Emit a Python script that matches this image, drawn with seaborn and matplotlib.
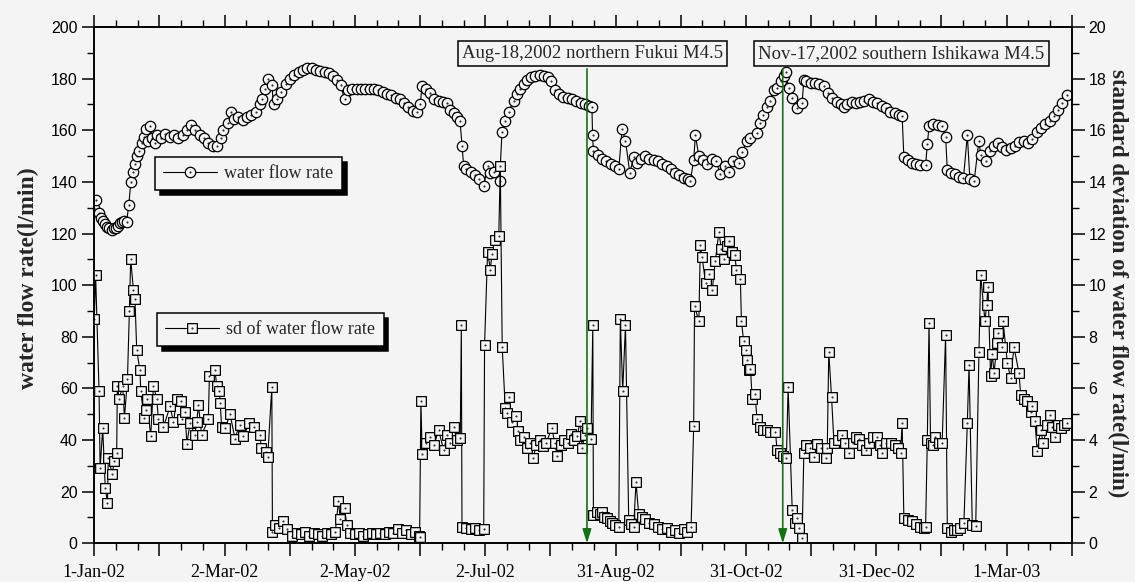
import numpy as np
import pandas as pd
import matplotlib
matplotlib.use('Agg')
import matplotlib.pyplot as plt
import matplotlib.dates as mdates
from matplotlib.lines import Line2D
from matplotlib.path import Path
from matplotlib.ticker import MultipleLocator, FixedLocator
import seaborn as sns

# ---------------- data ----------------
START = '2002-01-01'

flow_day = [0, 1, 2, 3, 4, 5, 6, 7, 8, 9, 10, 11, 12, 13, 14, 15, 16, 17, 18, 19,
            20, 21, 22, 23, 24, 25, 26, 27, 28, 29, 31, 33, 35, 37, 39, 41, 43, 45, 47, 49,
            51, 53, 55, 57, 59, 60, 62, 63.6, 65, 67, 69, 71, 73, 75, 77, 78, 79.4, 80.6, 82.5, 83.3,
            85, 87, 89, 91, 93, 95, 97, 99, 101, 103, 105, 107, 109, 111, 113, 114.5, 116.3, 118, 120, 122,
            124, 126, 128, 130, 132, 134, 136, 138, 140, 142, 144, 146, 148, 150, 151.5, 152.3, 154, 156, 158, 160,
            162, 164, 165.5, 167, 168.5, 170, 170.9, 171.7, 173, 175, 177, 179, 181, 182.8, 184, 186, 188.4, 189.5, 191, 192.6,
            194.9, 196.5, 198, 199.5, 201, 203, 205, 207, 209, 211, 212.5, 214, 216, 218, 220, 222, 224, 226, 228, 230,
            231.3, 231.6, 232, 234, 236, 238, 240, 242, 243.8, 245.3, 246.9, 248.9, 250.7, 252.3, 254, 256, 258, 260, 262, 264,
            266, 268, 270, 272, 274, 276, 277.1, 278.6, 279.4, 281, 283, 285, 287, 289, 291, 293, 295, 297, 299.6, 301.1,
            303.4, 305, 308, 309.6, 311, 312.7, 314, 315.8, 317.4, 319, 320.5, 321.3, 322.8, 324.4, 326.7, 329, 329.8, 331, 333, 335,
            337, 339, 341, 343, 345, 347, 348.5, 350, 352, 354, 356, 358, 360, 362, 364, 366, 368, 370, 372, 374,
            375.5, 376.3, 378, 380, 382, 384, 386.4, 387.2, 388, 390, 392, 394, 395.7, 396.5, 398, 400, 402, 404, 405.8, 407,
            409, 411.2, 412, 414.3, 416.5, 418, 420, 422, 424, 426, 428, 430, 432, 434, 436, 438.3, 440, 442, 444, 446,
            448, 450, 452.3]
flow_val = [130, 133, 128, 126, 125, 123.5, 122.5, 122, 121.5, 122, 122, 123, 124, 124.5, 125, 124.5, 131, 140, 144, 147,
            150, 152, 155, 157.5, 160.5, 156, 161.5, 157, 155, 158, 157, 158.5, 157.5, 158, 157, 158, 160, 162, 160, 158,
            157, 155, 154, 154, 157, 160, 163, 167, 164.5, 165, 164, 165, 166, 167, 170, 172, 176, 180, 177.5, 170,
            172, 175, 178, 180, 181.5, 182.5, 183.5, 184, 184, 183.5, 183, 182.5, 182, 181, 179.5, 177.5, 172, 175.5, 176, 176,
            176, 176, 176, 176, 175.5, 175, 174, 173.5, 172.5, 172, 170.5, 169, 167.5, 167, 170, 177, 176, 174.5, 172, 171.5,
            171, 170.5, 168, 166.5, 165, 163.5, 154, 146, 145, 144, 142.5, 141, 138.5, 146, 143.5, 144, 140.5, 159.5, 163.5, 167,
            171.5, 174, 176, 178, 179.5, 180.5, 181, 181.5, 181, 180.5, 179, 175.5, 174, 173, 172.5, 172, 171.5, 170.5, 170, 169.5,
            169, 158, 152, 150.5, 149, 148, 147, 146, 145, 160.5, 156, 143.5, 149.5, 147.5, 149, 150, 149, 148.5, 148, 147,
            146, 145, 143.5, 142.5, 141.5, 141, 140.5, 148.5, 158, 150, 148.5, 147, 149, 148, 143, 146, 144, 148, 147.5, 151.5,
            156, 157, 159, 163, 166, 169, 171.5, 175.5, 176.5, 179, 181, 182.5, 176.5, 172.5, 168.5, 170.5, 179.5, 179, 178.5, 178.5,
            178, 177, 174.5, 172.5, 171, 170, 169, 170, 171, 170.5, 171, 171.5, 172, 171, 170.5, 169.5, 168.5, 167, 166.5, 166,
            165.5, 149.5, 148.5, 147.5, 147, 146.5, 146.5, 154.5, 161.5, 162.5, 162, 161.5, 157.5, 144.5, 143.5, 143, 142, 141.5, 158, 141,
            140.5, 156, 150.5, 148, 152, 154, 155, 153.5, 152.5, 153, 154, 155.5, 156, 155, 156.5, 159.5, 161, 162.5, 163.5, 165.5,
            168, 170.5, 173.5]

sd_day = [0, 0.6, 2.2, 2.7, 3.9, 5.1, 6.1, 6.5, 8.4, 9.2, 10.4, 10.7, 11.6, 13.2, 14, 15.4, 16.3, 16.9, 18.2, 18.9,
          19.7, 21.2, 21.6, 23.1, 23.9, 24.4, 26.2, 27.5, 29, 29.8, 32.1, 35.2, 36.8, 38.3, 40.2, 40.6, 42.2, 43, 44.5, 46.8,
          47.6, 48.4, 49.9, 53, 53.5, 56.1, 56.9, 58.1, 58.5, 59.2, 60.8, 63.1, 65.4, 67.5, 69.3, 72.1, 74.3, 77.1, 77.5, 79.7,
          80.6, 82.5, 82.8, 84, 86, 87.5, 89.5, 91.8, 94, 96, 98, 100, 102, 104, 106, 108, 110, 112, 113.5, 114.3,
          116.3, 117.4, 119, 121, 123, 125, 127, 129, 131, 133, 135, 137, 139, 141, 143, 145, 147, 149, 150.7, 151.2,
          151.8, 152.4, 154, 156.2, 158, 160, 162.4, 164, 165.5, 167, 168.5, 170.1, 170.6, 170.9, 173, 175, 177, 179, 181, 181.4,
          182.8, 184.1, 184.8, 186.1, 188, 188.7, 189.6, 191, 191.8, 192.6, 194, 196.2, 196.8, 198, 199.6, 201, 202.5, 203.9, 205.5, 207,
          208.5, 210, 212.7, 214, 215.1, 217, 218.5, 220, 221.5, 223, 224.4, 225.9, 226.7, 228, 229, 230.9, 231.7, 232, 233.7, 235,
          236, 237, 238.3, 239.5, 240.7, 242, 243.8, 244.5, 245.6, 246.9, 248.4, 249.5, 250.7, 251.8, 253, 254.5, 256, 258, 260, 262,
          264, 266, 268, 270, 272, 274, 275.5, 277.4, 278.6, 279, 281, 281.7, 282.5, 284.1, 285.6, 287.2, 288.7, 290.3, 291.5, 292.6,
          294, 294.9, 296.3, 297.7, 298.5, 300.3, 300.8, 301.8, 302.7, 303.4, 304.2, 305, 305.8, 307, 308.1, 309.6, 311, 312.7, 314, 316.6,
          317.4, 318.5, 320, 321.7, 322.5, 324.4, 325.5, 326.7, 327.5, 329, 329.8, 331, 332.5, 334.5, 336, 338, 339.9, 340.7, 341.4, 342.7,
          343.8, 345.5, 347.6, 349, 350.7, 352.5, 354, 355.4, 357, 358.5, 360, 362, 363.9, 365, 366.2, 368, 370.1, 372, 373.5, 374.8,
          375.5, 376.3, 378, 380, 382, 384, 385.6, 386.4, 387.2, 388, 388.7, 390, 391, 392.5, 394.1, 395.7, 396.5, 398, 399.5, 401.1,
          402.5, 404.2, 405.8, 406.6, 408.1, 409.7, 411.2, 412, 414, 414.8, 415.4, 416.6, 417.4, 418.2, 419.7, 420, 422, 422.4, 424.4, 425.9,
          427.5, 429.8, 430.6, 432, 433.7, 435.2, 436, 437.2, 438.3, 439.9, 441.1, 443, 444, 445, 446.4, 448, 449.2, 450.8, 452.3]
sd_val = [8.7, 10.4, 5.9, 2.9, 4.45, 2.13, 1.57, 3.3, 2.67, 3.2, 3.5, 6.1, 5.6, 6.1, 4.85, 6.35, 9.0, 11.0, 9.8, 9.45,
          7.5, 6.7, 5.9, 4.85, 5.15, 5.6, 4.15, 6.1, 5.6, 4.8, 4.5, 5.3, 4.7, 5.6, 5.5, 4.8, 5.1, 3.85, 4.65, 4.2,
          4.7, 5.35, 4.2, 4.8, 6.5, 6.7, 6.1, 5.9, 5.45, 4.5, 4.45, 5.0, 4.05, 4.6, 4.15, 4.65, 4.5, 4.2, 3.7, 3.55,
          3.35, 6.05, 0.45, 0.7, 0.6, 0.85, 0.55, 0.3, 0.4, 0.35, 0.45, 0.3, 0.4, 0.35, 0.3, 0.4, 0.35, 0.43, 1.65, 0.93,
          1.35, 0.7, 0.4, 0.35, 0.4, 0.3, 0.35, 0.4, 0.35, 0.4, 0.35, 0.45, 0.4, 0.55, 0.4, 0.5, 0.35, 0.45, 0.3, 0.26,
          5.53, 3.46, 3.9, 4.13, 3.8, 4.4, 3.6, 4.2, 3.9, 4.5, 4.0, 4.07, 8.44, 0.65, 0.6, 0.55, 0.6, 0.5, 0.55, 7.7,
          11.3, 10.6, 11.2, 11.75, 11.9, 14.6, 7.6, 5.25, 5.05, 5.65, 4.7, 4.95, 4.35, 4.0, 4.1, 3.7, 3.9, 3.3, 3.8, 4.0,
          3.75, 3.9, 4.45, 3.9, 3.4, 3.8, 4.0, 3.9, 4.25, 4.0, 4.15, 4.75, 3.7, 4.2, 4.45, 4.05, 8.44, 1.1, 1.23, 1.15,
          1.23, 1.0, 0.97, 0.85, 0.78, 0.7, 0.62, 8.7, 5.9, 8.45, 0.9, 0.75, 0.65, 2.36, 1.15, 1.0, 0.95, 0.8, 0.75, 0.65,
          0.55, 0.6, 0.45, 0.5, 0.4, 0.55, 0.45, 0.62, 4.56, 9.2, 8.6, 11.55, 11.1, 10.1, 10.45, 9.8, 10.95, 12.05, 11.4, 11.0,
          11.5, 11.7, 11.3, 11.15, 10.6, 10.25, 8.6, 7.85, 7.5, 7.1, 6.7, 6.75, 5.6, 5.8, 4.8, 4.5, 4.4, 4.4, 4.3, 4.3,
          3.6, 3.5, 3.4, 3.3, 6.05, 1.3, 0.8, 0.97, 0.58, 0.19, 3.5, 3.8, 3.7, 3.33, 3.85, 3.7, 3.3, 3.7, 7.4, 5.65,
          3.9, 4.0, 4.2, 3.9, 3.5, 3.9, 4.1, 4.05, 3.8, 3.6, 3.9, 4.1, 4.1, 3.8, 3.5, 3.9, 3.9, 3.8, 3.7, 3.5,
          4.67, 0.97, 0.9, 0.85, 0.75, 0.65, 0.58, 0.62, 4.0, 8.54, 3.9, 3.8, 4.1, 3.9, 3.9, 8.06, 0.58, 0.45, 0.5, 0.52,
          0.6, 0.77, 4.67, 6.9, 0.71, 0.67, 7.4, 10.4, 8.6, 9.25, 9.94, 6.5, 7.35, 6.6, 7.75, 8.13, 7.6, 8.6, 7.0, 6.4,
          7.6, 6.6, 5.75, 5.6, 5.5, 5.1, 5.3, 4.75, 3.57, 4.4, 3.87, 4.58, 4.97, 4.5, 4.13, 4.6, 4.45, 4.6, 4.67]

x_tick_labels = ['1-Jan-02', '2-Mar-02', '2-May-02', '2-Jul-02',
                 '31-Aug-02', '31-Oct-02', '31-Dec-02', '1-Mar-03']
quake_dates = ['2002-08-18', '2002-11-17']
quake_labels = ['Aug-18,2002 northern Fukui M4.5',
                'Nov-17,2002 southern Ishikawa M4.5']
series_labels = ['water flow rate', 'sd of water flow rate']
left_label = 'water flow rate(l/min)'
right_label = 'standard deviation of water flow rate(l/min)'

# ---------------- styling ----------------
BG = '#f4f4f4'
SERIF = ['Liberation Serif', 'DejaVu Serif']
SANS = ['Liberation Sans', 'DejaVu Sans']
GREEN = '#137313'

sns.set_style('ticks')
plt.rcParams['font.family'] = SERIF
plt.rcParams['axes.linewidth'] = 1.2

# open markers with a centre dot
circ_marker = Path.make_compound_path(Path.unit_circle(), Path.circle((0, 0), 0.07))
sq = Path([(-1, -1), (1, -1), (1, 1), (-1, 1), (-1, -1)],
          [Path.MOVETO, Path.LINETO, Path.LINETO, Path.LINETO, Path.CLOSEPOLY])
sq_marker = Path.make_compound_path(sq, Path.circle((0, 0), 0.07))

t0 = pd.Timestamp(START)
flow_df = pd.DataFrame({'date': t0 + pd.to_timedelta(flow_day, unit='D'), 'value': flow_val})
sd_df = pd.DataFrame({'date': t0 + pd.to_timedelta(sd_day, unit='D'), 'value': sd_val})

fig = plt.figure(figsize=(11.35, 5.82), dpi=100, facecolor=BG)
ax = fig.add_axes([0.0831, 0.0665, 0.8611, 0.8871])
ax.set_facecolor(BG)
ax2 = ax.twinx()

mk = dict(markerfacecolor=BG, markeredgecolor='black', markeredgewidth=0.9)
sns.lineplot(data=flow_df, x='date', y='value', ax=ax, estimator=None, sort=False,
             legend=False, color='black', linewidth=0.8, marker=circ_marker,
             markersize=7.5, **mk)
sns.lineplot(data=sd_df, x='date', y='value', ax=ax2, estimator=None, sort=False,
             legend=False, color='black', linewidth=0.8, marker=sq_marker,
             markersize=7.0, **mk)

# axes ranges & ticks
x0 = mdates.date2num(t0)
span = 454.3
ax.set_xlim(x0, x0 + span)
major = x0 + np.arange(16) * span / 15
minor = x0 + np.arange(46) * span / 45
ax.xaxis.set_major_locator(FixedLocator(major))
ax.xaxis.set_minor_locator(FixedLocator(minor))
ax.set_xticklabels([x_tick_labels[i // 2] if i % 2 == 0 else '' for i in range(16)])

ax.set_ylim(0, 200)
ax.yaxis.set_major_locator(MultipleLocator(20))
ax.yaxis.set_minor_locator(MultipleLocator(10))
ax2.set_ylim(0, 20)
ax2.yaxis.set_major_locator(MultipleLocator(2))
ax2.yaxis.set_minor_locator(MultipleLocator(1))

for a in (ax, ax2):
    a.set_xlabel('')
    a.set_ylabel('')
    for s in a.spines.values():
        s.set_visible(True)
        s.set_color('black')
        s.set_linewidth(1.2)
    a.tick_params(which='major', direction='out', length=9, width=1.1, colors='black')
    a.tick_params(which='minor', direction='out', length=5, width=1.0, colors='black')

ax.tick_params(axis='x', which='both', top=True, bottom=True)
ax.tick_params(axis='x', which='major', pad=6, labelsize=13)
ax.tick_params(axis='y', which='major', pad=3, labelsize=11.5)
ax2.tick_params(axis='y', which='major', pad=3, labelsize=11.5)
for lab in ax.get_yticklabels() + ax2.get_yticklabels():
    lab.set_family(SANS)
for lab in ax.get_xticklabels():
    lab.set_family(SERIF)

# axis titles
ax.text(-0.0678, 0.514, left_label, transform=ax.transAxes, rotation=90,
        ha='center', va='center', fontsize=17, fontweight='bold', family=SERIF)
ax.text(1.0465, 0.504, right_label, transform=ax.transAxes, rotation=270,
        ha='center', va='center', fontsize=16.5, fontweight='bold', family=SERIF)

# earthquake markers
box_x = [0.510, 0.826]
for qd, ql, bx in zip(quake_dates, quake_labels, box_x):
    xd = mdates.date2num(pd.Timestamp(qd))
    ax2.annotate('', xy=(xd, 0.0), xytext=(xd, 0.919),
                 xycoords=ax2.get_xaxis_transform(), textcoords=ax2.get_xaxis_transform(),
                 arrowprops=dict(arrowstyle='-|>,head_length=0.7,head_width=0.22',
                                 color=GREEN, lw=1.2, shrinkA=0, shrinkB=0,
                                 mutation_scale=12), zorder=5)
    ax2.text(bx, 0.949, ql, transform=ax2.transAxes, ha='center', va='center',
             fontsize=13.5, family=SERIF, zorder=6,
             bbox=dict(boxstyle='square,pad=0.22', fc=BG, ec='black', lw=1.1))

# legends
h1 = Line2D([], [], color='black', lw=0.8, marker=circ_marker, markersize=7.5, **mk)
h2 = Line2D([], [], color='black', lw=0.8, marker=sq_marker, markersize=7.0, **mk)
shadow = {'ox': 3.5, 'oy': -3.5, 'facecolor': 'black', 'edgecolor': 'black', 'alpha': 1}
leg_kw = dict(loc='upper left', borderaxespad=0, fancybox=False, framealpha=1,
              facecolor=BG, edgecolor='black', handlelength=3.0, handletextpad=0.4,
              borderpad=0.45, prop={'family': SERIF, 'size': 13}, shadow=shadow)
leg1 = ax2.legend([h1], [series_labels[0]], bbox_to_anchor=(0.062, 0.748), **leg_kw)
leg1.get_frame().set_linewidth(1.1)
ax2.add_artist(leg1)
leg2 = ax2.legend([h2], [series_labels[1]], bbox_to_anchor=(0.064, 0.446), **leg_kw)
leg2.get_frame().set_linewidth(1.1)

fig.savefig('out.png', dpi=100, facecolor=BG)
